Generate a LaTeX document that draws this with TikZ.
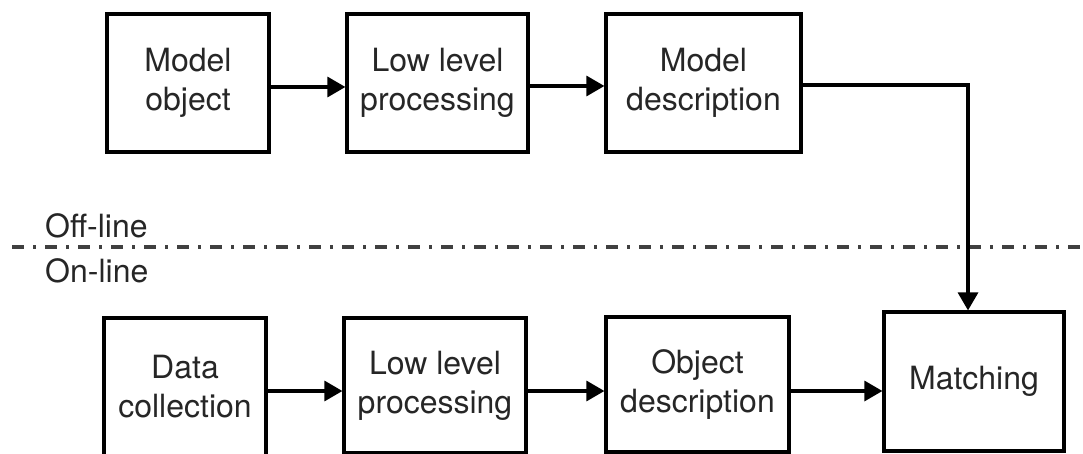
\documentclass[tikz,border=0pt]{standalone}
\usepackage{fontspec}
\setmainfont{TeX Gyre Heros}
\usetikzlibrary{arrows.meta}
\begin{document}
\begin{tikzpicture}[x=1pt,y=-1pt,
  txt/.style={align=center,inner sep=0pt,font=\fontsize{32}{39}\selectfont,text=black!85},
  box/.style={txt,draw=black,line width=3.2pt},
  arr/.style={draw=black,line width=3.2pt,-{Triangle[length=18pt,width=20pt]}},
  lbl/.style={anchor=west,inner sep=0pt,font=\fontsize{32}{39}\selectfont,text=black!85},
  sep/.style={draw=black!75,line width=3.5pt,dash pattern=on 12pt off 9pt on 3pt off 9pt}]
\useasboundingbox (0,0) rectangle (1083,454);
\clip (0,0) rectangle (1083,454);
% top row
\node[box,minimum width=162pt,minimum height=138pt] (mo) at (188,83) {Model\\object};
\node[box,minimum width=181pt,minimum height=138pt] (ll1) at (437.5,83) {Low level\\processing};
\node[box,minimum width=195pt,minimum height=138pt] (md) at (703.5,83) {Model\\description};
% bottom row
\node[box,minimum width=162pt,minimum height=152pt,
  label={[txt,yshift=7pt]center:{Data\\collection}}] (dc) at (185,394) {};
\node[box,minimum width=182pt,minimum height=135pt] (ll2) at (435,385.5) {Low level\\processing};
\node[box,minimum width=183pt,minimum height=135pt] (od) at (697.5,384.5) {Object\\description};
\node[box,minimum width=180pt,minimum height=139pt] (ma) at (974,381.5) {Matching};
% separator
\draw[sep] (12,247) -- (1083,247);
\node[lbl] (off) at (45,226) {Off-line};
\node[lbl] (on) at (45,271) {On-line};
% connectors
\coordinate (turn) at (968,85);
\draw[arr] (mo.east |- 0,87) -- (ll1.west |- 0,87);
\draw[arr] (ll1.east |- 0,86) -- (md.west |- 0,86);
\draw[arr] (md.east |- turn) -- (turn) -- (turn |- ma.north);
\draw[arr] (dc.east |- 0,391) -- (ll2.west |- 0,391);
\draw[arr] (ll2.east |- 0,391) -- (od.west |- 0,391);
\draw[arr] (od.east |- 0,391) -- (ma.west |- 0,391);
\end{tikzpicture}
\end{document}
